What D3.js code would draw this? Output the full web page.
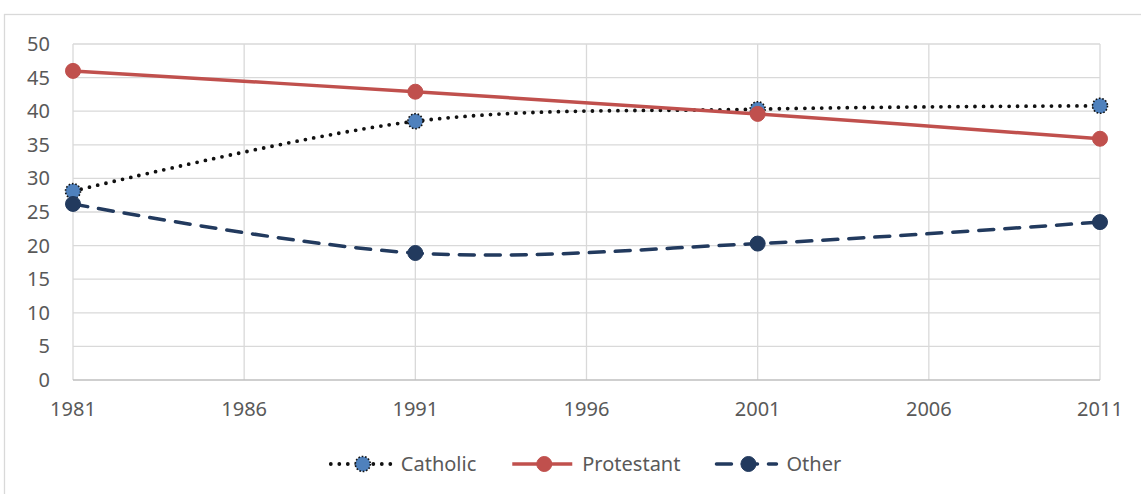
<!DOCTYPE html>
<html>
<head>
<meta charset="utf-8">
<script src="https://cdn.jsdelivr.net/npm/d3@7"></script>
<style>
  body { margin: 0; background: #fff; }
  text { font-family: "Noto Sans", "Open Sans", sans-serif; fill: #595959; }
</style>
</head>
<body>
<div id="chart"></div>
<script>
const years = [1981, 1991, 2001, 2011];
const xTicks = [1981, 1986, 1991, 1996, 2001, 2006, 2011];
const yTicks = [0, 5, 10, 15, 20, 25, 30, 35, 40, 45, 50];
const seriesNames = ["Catholic", "Protestant", "Other"];
const catholic = [28.1, 38.5, 40.3, 40.8];
const protestant = [46.0, 42.9, 39.6, 35.9];
const other = [26.2, 18.9, 20.3, 23.5];

const width = 1141, height = 494;
const margin = { left: 73, right: 41, top: 44, bottom: 114 };

const svg = d3.select("#chart").append("svg")
  .attr("width", width)
  .attr("height", height);

// outer chart border
svg.append("rect")
  .attr("x", 4.5).attr("y", 14.5)
  .attr("width", 1200).attr("height", 600)
  .attr("fill", "none")
  .attr("stroke", "#d9d9d9")
  .attr("stroke-width", 1.3);

const x = d3.scaleLinear().domain([1981, 2011]).range([margin.left, width - margin.right]);
const y = d3.scaleLinear().domain([0, 50]).range([height - margin.bottom, margin.top]);

// gridlines
const grid = svg.append("g");
grid.selectAll(".hg").data(yTicks.filter(d => d > 0)).join("line")
  .attr("x1", x(1981)).attr("x2", x(2011))
  .attr("y1", d => y(d)).attr("y2", d => y(d))
  .attr("stroke", "#d9d9d9").attr("stroke-width", 1.3);
grid.selectAll(".vg").data(xTicks).join("line")
  .attr("x1", d => x(d)).attr("x2", d => x(d))
  .attr("y1", y(50)).attr("y2", y(0))
  .attr("stroke", "#d9d9d9").attr("stroke-width", 1.3);
grid.append("line")
  .attr("x1", x(1981)).attr("x2", x(2011))
  .attr("y1", y(0)).attr("y2", y(0))
  .attr("stroke", "#bfbfbf").attr("stroke-width", 1.5);

// axis labels
svg.append("g").selectAll("text").data(yTicks).join("text")
  .attr("x", 50).attr("y", d => y(d))
  .attr("dy", "0.35em")
  .attr("text-anchor", "end")
  .attr("font-size", 20)
  .text(d => d);
svg.append("g").selectAll("text").data(xTicks).join("text")
  .attr("x", d => x(d)).attr("y", 409)
  .attr("dy", "0.35em")
  .attr("text-anchor", "middle")
  .attr("font-size", 20)
  .text(d => d);

const series = [
  { name: seriesNames[0], values: catholic, stroke: "#111", width: 3.8, dash: "0,8.5", cap: "round",
    mFill: "#4f81bd", mStroke: "#111", mDash: "1.6,1.8", mWidth: 1.6 },
  { name: seriesNames[1], values: protestant, stroke: "#c0504d", width: 3.5, dash: null, cap: "butt",
    mFill: "#c0504d", mStroke: "#c0504d", mDash: null, mWidth: 1 },
  { name: seriesNames[2], values: other, stroke: "#223a5e", width: 3.5, dash: "15,11", cap: "round",
    mFill: "#223a5e", mStroke: "#223a5e", mDash: null, mWidth: 1 }
];

const line = d3.line()
  .x((d, i) => x(years[i]))
  .y(d => y(d))
  .curve(d3.curveCatmullRom.alpha(0));

series.forEach(s => {
  const g = svg.append("g");
  g.append("path")
    .attr("d", line(s.values))
    .attr("fill", "none")
    .attr("stroke", s.stroke)
    .attr("stroke-width", s.width)
    .attr("stroke-dasharray", s.dash)
    .attr("stroke-linecap", s.cap);
  g.selectAll("circle").data(s.values).join("circle")
    .attr("cx", (d, i) => x(years[i]))
    .attr("cy", d => y(d))
    .attr("r", 7.5)
    .attr("fill", s.mFill)
    .attr("stroke", s.mStroke)
    .attr("stroke-width", s.mWidth)
    .attr("stroke-dasharray", s.mDash);
});

// legend
const legend = svg.append("g");
const legY = 464;
let lx = 0;
series.forEach(s => {
  const g = legend.append("g");
  g.append("line")
    .attr("x1", lx).attr("x2", lx + 60)
    .attr("y1", legY).attr("y2", legY)
    .attr("stroke", s.stroke)
    .attr("stroke-width", s.width)
    .attr("stroke-dasharray", s.dash)
    .attr("stroke-linecap", s.cap);
  g.append("circle")
    .attr("cx", lx + 32).attr("cy", legY).attr("r", 7.5)
    .attr("fill", s.mFill)
    .attr("stroke", s.mStroke)
    .attr("stroke-width", s.mWidth)
    .attr("stroke-dasharray", s.mDash);
  const t = g.append("text")
    .attr("x", lx + 70).attr("y", legY)
    .attr("dy", "0.35em")
    .attr("font-size", 20)
    .text(s.name);
  lx += 70 + t.node().getComputedTextLength() + 36;
});
const legW = lx - 36;
legend.attr("transform", `translate(${586 - legW / 2},0)`);
</script>
</body>
</html>
